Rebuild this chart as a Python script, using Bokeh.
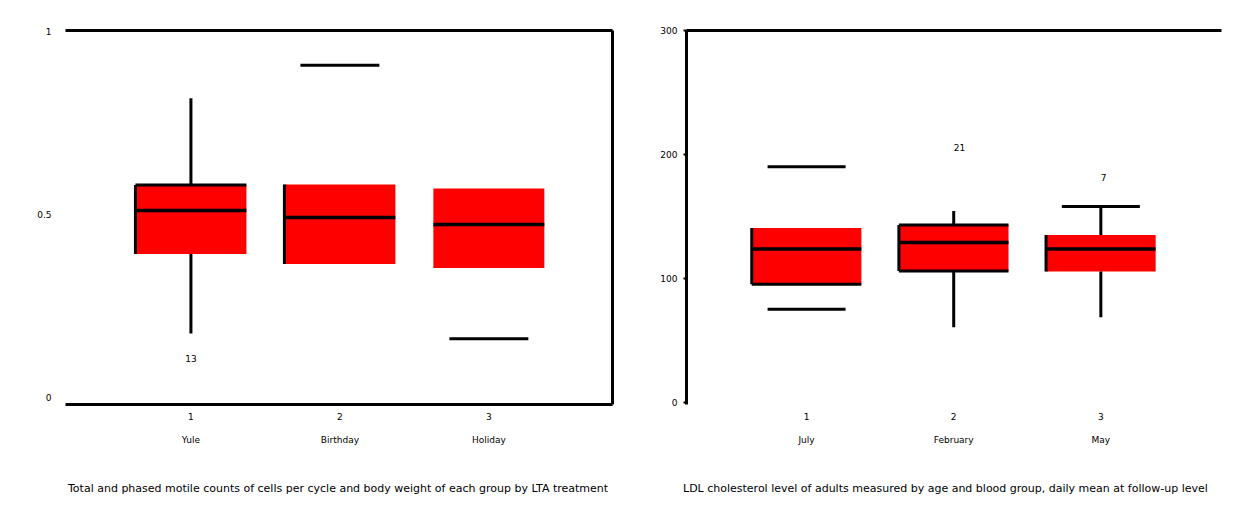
from bokeh.plotting import figure
from bokeh.layouts import row, column
from bokeh.models import Range1d, LinearAxis, FixedTicker, Div
from bokeh.embed import file_html
from bokeh.resources import INLINE
from bokeh.core.properties import value

# ---------------- data ----------------
categories = [1, 2, 3]
left_names = ["Yule", "Birthday", "Holiday"]
right_names = ["July", "February", "May"]

left_q1 = [0.392, 0.365, 0.354]
left_med = [0.511, 0.492, 0.473]
left_q3 = [0.581, 0.582, 0.571]
left_whisker_lo = [0.175, None, 0.161]
left_whisker_hi = [0.818, 0.908, None]
left_outlier_x = [1]
left_outlier_y = [0.106]
left_outlier_lab = ["13"]

right_q1 = [95.4, 106.2, 105.8]
right_med = [123.8, 129.0, 123.8]
right_q3 = [140.8, 143.2, 135.2]
right_whisker_lo = [75.2, 60.8, 68.8]
right_whisker_hi = [190.2, 154.4, 158.2]
right_outlier_x = [2, 3]
right_outlier_y = [205.6, 181.6]
right_outlier_lab = ["21", "7"]

left_yticks = [0, 0.5, 1]
left_ytick_labels = {0: "0", 0.5: "0.5", 1: "1"}
right_yticks = [0, 100, 200, 300]

left_caption = "Total and phased motile counts of cells per cycle and body weight of each group by LTA treatment"
right_caption = "LDL cholesterol level of adults measured by age and blood group, daily mean at follow-up level"

# ---------------- style ----------------
FONT = "DejaVu Sans"
BOXW = 0.745
CAPW = 0.53
LW = 3
H = 460

# which parts are visible per category
left_stem = [True, False, False]
left_cap = [False, True, True]
left_edges = [["top", "left"], ["left"], []]
right_stem = [False, True, True]
right_cap_lo = [True, False, False]
right_cap_hi = [True, False, True]
right_edges = [["left", "bottom"], ["top", "left", "bottom"], ["left"]]


def make_fig(width, xr, yr, borders):
    p = figure(width=width, height=H, x_range=Range1d(*xr), y_range=Range1d(*yr),
               output_backend="svg", toolbar_location=None,
               min_border_left=borders[0], min_border_right=borders[1],
               min_border_top=borders[2], min_border_bottom=borders[3],
               x_axis_location=None, y_axis_location=None)
    p.outline_line_color = None
    p.grid.visible = False
    p.background_fill_color = "white"
    p.border_fill_color = "white"
    return p


def style_axis(ax, line=True, labels=True, ticks_out=0):
    ax.axis_line_color = "black" if line else None
    ax.axis_line_width = LW
    ax.major_tick_line_color = "black" if ticks_out else None
    ax.major_tick_out = ticks_out
    ax.major_tick_in = 0
    ax.major_tick_line_width = 2
    ax.minor_tick_line_color = None
    ax.major_label_text_font = FONT
    ax.major_label_text_font_size = "9px"
    ax.major_label_text_color = "black"
    if not labels:
        ax.major_label_text_font_size = "0px"
        ax.major_label_text_color = None


def draw_boxes(p, q1, med, q3, edges):
    xs = categories
    p.vbar(x=xs, width=BOXW, bottom=q1, top=q3, fill_color="#ff0000",
           line_color=None)
    p.segment(x0=[x - BOXW / 2 for x in xs], x1=[x + BOXW / 2 for x in xs],
              y0=med, y1=med, line_color="black", line_width=LW + 0.5)
    sx0, sx1, sy0, sy1 = [], [], [], []
    for x, a, b, e in zip(xs, q1, q3, edges):
        l, r = x - BOXW / 2, x + BOXW / 2
        if "top" in e:
            sx0.append(l); sx1.append(r); sy0.append(b); sy1.append(b)
        if "bottom" in e:
            sx0.append(l); sx1.append(r); sy0.append(a); sy1.append(a)
        if "left" in e:
            sx0.append(l); sx1.append(l); sy0.append(a); sy1.append(b)
    p.segment(x0=sx0, x1=sx1, y0=sy0, y1=sy1, line_color="black", line_width=LW)


def bottom_axes(p, names):
    ax1 = LinearAxis(ticker=FixedTicker(ticks=categories))
    style_axis(ax1, line=True)
    ax1.major_label_standoff = 8
    ax1.major_label_overrides = {c: str(c) for c in categories}
    p.add_layout(ax1, "below")
    ax2 = LinearAxis(ticker=FixedTicker(ticks=categories))
    style_axis(ax2, line=False)
    ax2.major_label_standoff = 12
    ax2.major_label_overrides = {c: n for c, n in zip(categories, names)}
    p.add_layout(ax2, "below")
    return ax1


def caption(text, width, shift):
    html = ('<div style="margin-left:%dpx; padding-top:16px; '
            'font-family:\'DejaVu Sans\'; font-size:11px; color:black; '
            'white-space:nowrap;">%s</div>' % (shift, text))
    return Div(text=html, width=width, height=45)


# ---------------- left chart ----------------
pl = make_fig(624, (0.158, 3.83), (-0.019, 1.003), (65, 12, 28, 56))
draw_boxes(pl, left_q1, left_med, left_q3, left_edges)
sx, sy0, sy1 = [], [], []
for x, s, lo, hi, a, b in zip(categories, left_stem, left_whisker_lo, left_whisker_hi, left_q1, left_q3):
    if s:
        sx += [x, x]; sy0 += [lo, b]; sy1 += [a, hi]
pl.segment(x0=sx, x1=sx, y0=sy0, y1=sy1, line_color="black", line_width=LW)
cx0, cx1, cy = [], [], []
for x, c, lo, hi in zip(categories, left_cap, left_whisker_lo, left_whisker_hi):
    if c:
        for v in (lo, hi):
            if v is not None:
                cx0.append(x - CAPW / 2); cx1.append(x + CAPW / 2); cy.append(v)
pl.segment(x0=cx0, x1=cx1, y0=cy, y1=cy, line_color="black", line_width=LW)
pl.text(x=left_outlier_x, y=left_outlier_y, text=left_outlier_lab,
        text_font=value(FONT), text_font_size="9px", text_align="center",
        text_baseline="middle", text_color="black")

ly = LinearAxis(ticker=FixedTicker(ticks=left_yticks))
style_axis(ly, line=False)
ly.major_label_overrides = left_ytick_labels
ly.major_label_standoff = 14
pl.add_layout(ly, "left")
bottom_axes(pl, left_names)
ta = LinearAxis(ticker=FixedTicker(ticks=[]))
style_axis(ta, line=True, labels=False)
pl.add_layout(ta, "above")
ra = LinearAxis(ticker=FixedTicker(ticks=[]))
style_axis(ra, line=True, labels=False)
pl.add_layout(ra, "right")

# ---------------- right chart ----------------
pr = make_fig(620, (0.184, 3.82), (-1.5, 300), (62, 23, 30, 55))
draw_boxes(pr, right_q1, right_med, right_q3, right_edges)
sx, sy0, sy1 = [], [], []
for x, s, lo, hi, a, b in zip(categories, right_stem, right_whisker_lo, right_whisker_hi, right_q1, right_q3):
    if s:
        sx += [x, x]; sy0 += [lo, b]; sy1 += [a, hi]
pr.segment(x0=sx, x1=sx, y0=sy0, y1=sy1, line_color="black", line_width=LW)
cx0, cx1, cy = [], [], []
for x, clo, chi, lo, hi in zip(categories, right_cap_lo, right_cap_hi, right_whisker_lo, right_whisker_hi):
    if clo:
        cx0.append(x - CAPW / 2); cx1.append(x + CAPW / 2); cy.append(lo)
    if chi:
        cx0.append(x - CAPW / 2); cx1.append(x + CAPW / 2); cy.append(hi)
pr.segment(x0=cx0, x1=cx1, y0=cy, y1=cy, line_color="black", line_width=LW)
pr.text(x=right_outlier_x, y=right_outlier_y, text=right_outlier_lab,
        text_font=value(FONT), text_font_size="9px", text_align="left",
        text_baseline="middle", text_color="black")

ry = LinearAxis(ticker=FixedTicker(ticks=right_yticks))
style_axis(ry, line=True, ticks_out=3)
ry.major_label_standoff = 6
pr.add_layout(ry, "left")
rb = bottom_axes(pr, right_names)
rb.axis_line_color = None
rta = LinearAxis(ticker=FixedTicker(ticks=[]))
style_axis(rta, line=True, labels=False)
pr.add_layout(rta, "above")

layout = column(row(pl, pr),
                row(caption(left_caption, 624, 63), caption(right_caption, 620, 44)))
open("out.html", "w").write(file_html(layout, INLINE))
